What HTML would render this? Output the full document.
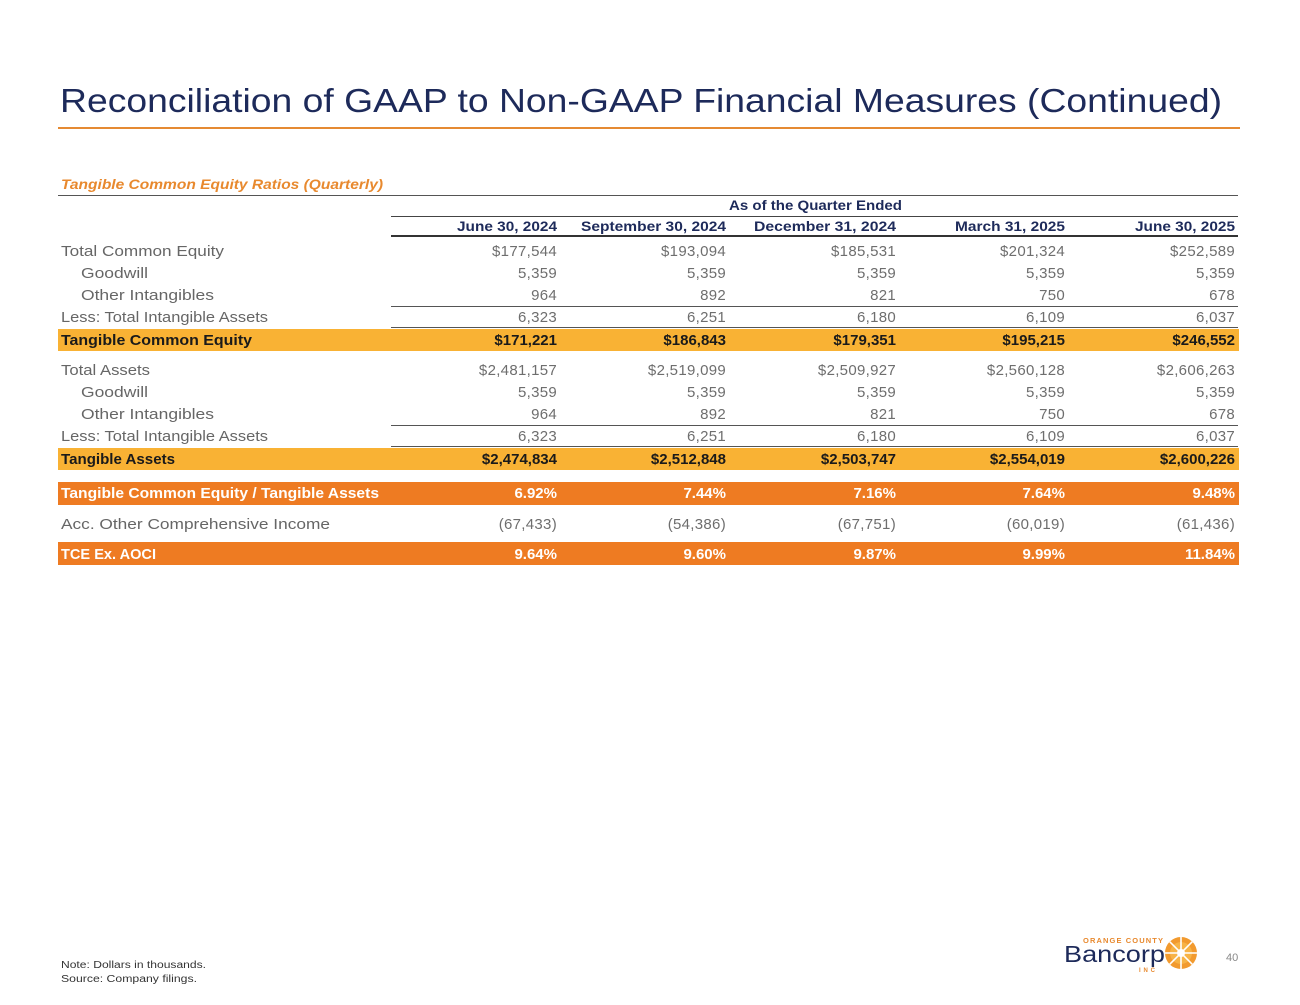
<!DOCTYPE html>
<html>
<head>
<meta charset="utf-8">
<style>
html,body{margin:0;padding:0;background:#ffffff;}
svg{display:block;}
text{font-family:"Liberation Sans",Arial,sans-serif;}
.lbl{font-size:15px;fill:#666666;}
.val{font-size:15px;fill:#6e6e6e;text-anchor:end;letter-spacing:0.3px;}
.hdr{font-size:14px;font-weight:bold;fill:#1d2a5a;text-anchor:end;}
.bk{font-size:15px;font-weight:bold;fill:#1a1a1a;}
.bkv{font-size:15px;font-weight:bold;fill:#1a1a1a;text-anchor:end;}
.wh{font-size:15px;font-weight:bold;fill:#ffffff;}
.whv{font-size:15px;font-weight:bold;fill:#ffffff;text-anchor:end;}
</style>
</head>
<body>
<svg width="1300" height="1005" viewBox="0 0 1300 1005" xmlns="http://www.w3.org/2000/svg">
<rect x="0" y="0" width="1300" height="1005" fill="#ffffff"/>

<!-- Title -->
<text x="60" y="112" font-size="33" fill="#1d2a5a" textLength="1162" lengthAdjust="spacingAndGlyphs">Reconciliation of GAAP to Non-GAAP Financial Measures (Continued)</text>
<rect x="58" y="127" width="1182" height="2" fill="#e58a32"/>

<!-- Subtitle -->
<text x="61" y="189" font-size="14" font-weight="bold" font-style="italic" fill="#e8892e" textLength="322" lengthAdjust="spacingAndGlyphs">Tangible Common Equity Ratios (Quarterly)</text>
<rect x="58" y="195" width="1180" height="1" fill="#555555"/>

<!-- Header -->
<text x="729" y="210" font-size="14" font-weight="bold" fill="#1d2a5a" textLength="173" lengthAdjust="spacingAndGlyphs">As of the Quarter Ended</text>
<rect x="391" y="216" width="847" height="1" fill="#444444"/>
<text class="hdr" x="557" y="231" textLength="100" lengthAdjust="spacingAndGlyphs">June 30, 2024</text>
<text class="hdr" x="726" y="231" textLength="145" lengthAdjust="spacingAndGlyphs">September 30, 2024</text>
<text class="hdr" x="896" y="231" textLength="142" lengthAdjust="spacingAndGlyphs">December 31, 2024</text>
<text class="hdr" x="1065" y="231" textLength="110" lengthAdjust="spacingAndGlyphs">March 31, 2025</text>
<text class="hdr" x="1235" y="231" textLength="100" lengthAdjust="spacingAndGlyphs">June 30, 2025</text>
<rect x="391" y="235" width="847" height="2" fill="#333333"/>

<!-- Section 1 -->
<text class="lbl" x="61" y="256" textLength="163" lengthAdjust="spacingAndGlyphs">Total Common Equity</text>
<text class="val" x="557" y="256">$177,544</text>
<text class="val" x="726" y="256">$193,094</text>
<text class="val" x="896" y="256">$185,531</text>
<text class="val" x="1065" y="256">$201,324</text>
<text class="val" x="1235" y="256">$252,589</text>

<text class="lbl" x="81" y="278" textLength="67" lengthAdjust="spacingAndGlyphs">Goodwill</text>
<text class="val" x="557" y="278">5,359</text>
<text class="val" x="726" y="278">5,359</text>
<text class="val" x="896" y="278">5,359</text>
<text class="val" x="1065" y="278">5,359</text>
<text class="val" x="1235" y="278">5,359</text>

<text class="lbl" x="81" y="300" textLength="133" lengthAdjust="spacingAndGlyphs">Other Intangibles</text>
<text class="val" x="557" y="300">964</text>
<text class="val" x="726" y="300">892</text>
<text class="val" x="896" y="300">821</text>
<text class="val" x="1065" y="300">750</text>
<text class="val" x="1235" y="300">678</text>

<rect x="391" y="306" width="847" height="1" fill="#555555"/>

<text class="lbl" x="61" y="322" textLength="207" lengthAdjust="spacingAndGlyphs">Less: Total Intangible Assets</text>
<text class="val" x="557" y="322">6,323</text>
<text class="val" x="726" y="322">6,251</text>
<text class="val" x="896" y="322">6,180</text>
<text class="val" x="1065" y="322">6,109</text>
<text class="val" x="1235" y="322">6,037</text>

<rect x="58" y="329" width="1181" height="22" fill="#f9b234"/>
<rect x="391" y="327" width="847" height="1" fill="#555555"/>
<text class="bk" x="61" y="345" textLength="191" lengthAdjust="spacingAndGlyphs">Tangible Common Equity</text>
<text class="bkv" x="557" y="345">$171,221</text>
<text class="bkv" x="726" y="345">$186,843</text>
<text class="bkv" x="896" y="345">$179,351</text>
<text class="bkv" x="1065" y="345">$195,215</text>
<text class="bkv" x="1235" y="345">$246,552</text>

<!-- Section 2 -->
<text class="lbl" x="61" y="375" textLength="89" lengthAdjust="spacingAndGlyphs">Total Assets</text>
<text class="val" x="557" y="375">$2,481,157</text>
<text class="val" x="726" y="375">$2,519,099</text>
<text class="val" x="896" y="375">$2,509,927</text>
<text class="val" x="1065" y="375">$2,560,128</text>
<text class="val" x="1235" y="375">$2,606,263</text>

<text class="lbl" x="81" y="397" textLength="67" lengthAdjust="spacingAndGlyphs">Goodwill</text>
<text class="val" x="557" y="397">5,359</text>
<text class="val" x="726" y="397">5,359</text>
<text class="val" x="896" y="397">5,359</text>
<text class="val" x="1065" y="397">5,359</text>
<text class="val" x="1235" y="397">5,359</text>

<text class="lbl" x="81" y="419" textLength="133" lengthAdjust="spacingAndGlyphs">Other Intangibles</text>
<text class="val" x="557" y="419">964</text>
<text class="val" x="726" y="419">892</text>
<text class="val" x="896" y="419">821</text>
<text class="val" x="1065" y="419">750</text>
<text class="val" x="1235" y="419">678</text>

<rect x="391" y="425" width="847" height="1" fill="#555555"/>

<text class="lbl" x="61" y="441" textLength="207" lengthAdjust="spacingAndGlyphs">Less: Total Intangible Assets</text>
<text class="val" x="557" y="441">6,323</text>
<text class="val" x="726" y="441">6,251</text>
<text class="val" x="896" y="441">6,180</text>
<text class="val" x="1065" y="441">6,109</text>
<text class="val" x="1235" y="441">6,037</text>

<rect x="58" y="448" width="1181" height="22" fill="#f9b234"/>
<rect x="391" y="446" width="847" height="1" fill="#555555"/>
<text class="bk" x="61" y="464" textLength="114" lengthAdjust="spacingAndGlyphs">Tangible Assets</text>
<text class="bkv" x="557" y="464">$2,474,834</text>
<text class="bkv" x="726" y="464">$2,512,848</text>
<text class="bkv" x="896" y="464">$2,503,747</text>
<text class="bkv" x="1065" y="464">$2,554,019</text>
<text class="bkv" x="1235" y="464">$2,600,226</text>

<!-- Ratio -->
<rect x="58" y="482" width="1181" height="23" fill="#ee7b22"/>
<text class="wh" x="61" y="498" textLength="318" lengthAdjust="spacingAndGlyphs">Tangible Common Equity / Tangible Assets</text>
<text class="whv" x="557" y="498">6.92%</text>
<text class="whv" x="726" y="498">7.44%</text>
<text class="whv" x="896" y="498">7.16%</text>
<text class="whv" x="1065" y="498">7.64%</text>
<text class="whv" x="1235" y="498">9.48%</text>

<text class="lbl" x="61" y="529" textLength="269" lengthAdjust="spacingAndGlyphs">Acc. Other Comprehensive Income</text>
<text class="val" x="557" y="529">(67,433)</text>
<text class="val" x="726" y="529">(54,386)</text>
<text class="val" x="896" y="529">(67,751)</text>
<text class="val" x="1065" y="529">(60,019)</text>
<text class="val" x="1235" y="529">(61,436)</text>

<rect x="58" y="542" width="1181" height="23" fill="#ee7b22"/>
<text class="wh" x="61" y="559" textLength="95" lengthAdjust="spacingAndGlyphs">TCE Ex. AOCI</text>
<text class="whv" x="557" y="559">9.64%</text>
<text class="whv" x="726" y="559">9.60%</text>
<text class="whv" x="896" y="559">9.87%</text>
<text class="whv" x="1065" y="559">9.99%</text>
<text class="whv" x="1235" y="559">11.84%</text>

<!-- Footer -->
<text x="61" y="968" font-size="10" fill="#333333" textLength="145" lengthAdjust="spacingAndGlyphs">Note: Dollars in thousands.</text>
<text x="61" y="982" font-size="10" fill="#333333" textLength="136" lengthAdjust="spacingAndGlyphs">Source: Company filings.</text>

<!-- Logo -->
<text x="1083" y="943" font-size="7.5" font-weight="bold" fill="#e8892e" textLength="80" lengthAdjust="spacing">ORANGE COUNTY</text>
<text x="1064" y="962" font-size="23" fill="#1d2a5a" textLength="101" lengthAdjust="spacingAndGlyphs">Bancorp</text>
<text x="1139" y="972" font-size="6" font-weight="bold" fill="#e8892e" textLength="16" lengthAdjust="spacing">INC</text>
<g transform="translate(1181,953)">
  <circle r="16" fill="#f29a2e"/>
  <circle r="11" fill="#f7b346"/>
  <g stroke="#ffffff" stroke-width="1.6">
    <line x1="0" y1="-16" x2="0" y2="16"/>
    <line x1="-16" y1="0" x2="16" y2="0"/>
    <line x1="-11.3" y1="-11.3" x2="11.3" y2="11.3"/>
    <line x1="-11.3" y1="11.3" x2="11.3" y2="-11.3"/>
  </g>
  <circle r="4" fill="#ffffff"/>
</g>
<text x="1226" y="961" font-size="11" fill="#888888">40</text>
</svg>
</body>
</html>
